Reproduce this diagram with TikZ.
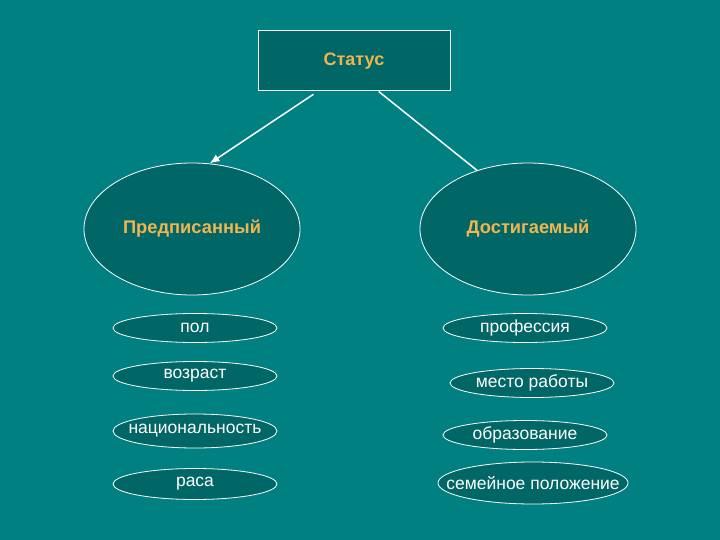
\documentclass[tikz,border=0pt]{standalone}
\usepackage{fontspec}
\setmainfont{Liberation Sans}
\usepackage{tikz}
\usetikzlibrary{arrows,arrows.meta,shapes.geometric}

\definecolor{fon}{RGB}{0,128,128}
\definecolor{tyomn}{RGB}{0,102,102}
\definecolor{zhelt}{RGB}{240,180,80}

\tikzset{
  vid/.style={ellipse,draw=white,line width=0.8pt,fill=tyomn,minimum width=216pt,minimum height=132pt,inner sep=0pt,text=zhelt,font=\bfseries\fontsize{18.3}{21}\selectfont},
  priznak/.style={ellipse,draw=white,line width=0.8pt,fill=tyomn,minimum width=164pt,minimum height=29pt,inner sep=0pt,text=white,font=\fontsize{17.5}{20}\selectfont},
  strelka/.style={white,line width=1.5pt}
}

\begin{document}
\begin{tikzpicture}[x=1pt,y=-1pt]

\fill[fon] (0,0) rectangle (720,540);
\useasboundingbox (0,0) rectangle (720,540);

\node (status) [draw=white,line width=1pt,fill=tyomn,minimum width=192pt,minimum height=60pt,text=zhelt,font=\bfseries\fontsize{18}{21}\selectfont] at (354,61) {Статус};

\node (pre) [vid] at (192,229) {Предписанный};
\node (ach) [vid] at (528,229) {Достигаемый};

\draw [strelka,-{Latex[length=10pt,width=8pt]},shorten <=5pt] (status.220) -- (pre.75);
\draw [strelka] (status.-51) -- (ach.131);

% предписанный
\node (pol) [priznak] at (195,328) {\makebox[0pt]{пол}};
\node (vozr) [priznak] at (195,376) {\makebox[0pt]{возраст}};
\node (nac) [priznak,minimum height=34pt] at (195,431) {\makebox[0pt]{национальность}};
\node (rasa) [priznak,minimum height=31pt] at (195,484) {\makebox[0pt]{раса}};

% достигаемый
\node (prof) [priznak] at (525,328) {\makebox[0pt]{профессия}};
\node (mesto) [priznak] at (532,383) {\makebox[0pt]{место работы}};
\node (obr) [priznak] at (525,435) {\makebox[0pt]{образование}};
\node (sem) [priznak,minimum width=190pt,minimum height=42pt] at (533,483) {\makebox[0pt]{семейное положение}};

\end{tikzpicture}
\end{document}
